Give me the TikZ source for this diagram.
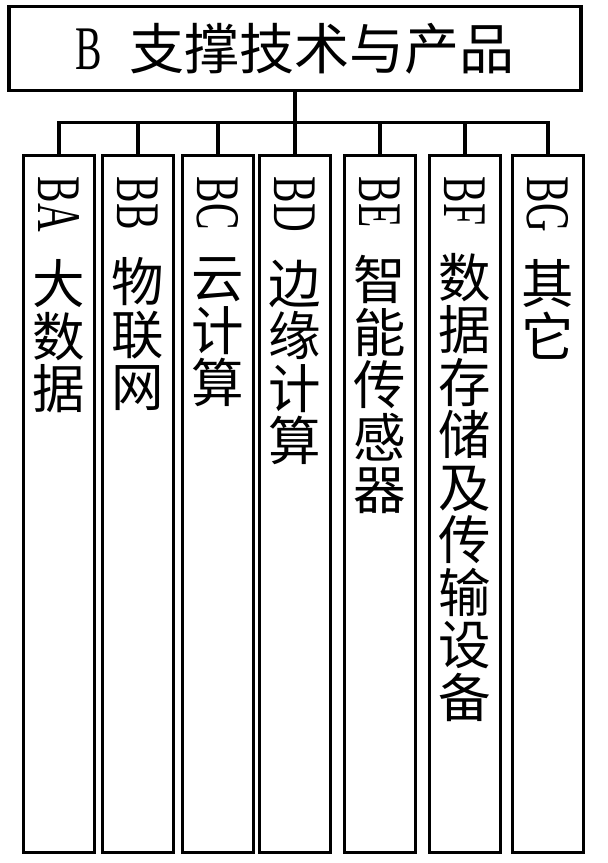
\documentclass[tikz,border=0pt]{standalone}
\usepackage{fontspec}
\usepackage{graphicx}
\usepackage{tikz}
\usetikzlibrary{positioning}

\newfontfamily\cjkfont{Noto Sans CJK SC}
\newfontfamily\latfont{Liberation Serif}
\newcommand{\code}[1]{{\latfont\fontsize{31pt}{31pt}\selectfont\scalebox{0.64}[1]{#1}}}
\newcommand{\vcode}[1]{\rotatebox{-90}{\code{#1}}}

\begin{document}
\begin{tikzpicture}
  [
    node distance = 40pt,
    box/.style = {draw, rectangle, line width = 1.6pt, inner sep = 0pt},
    root/.style = {box, minimum width = 286pt, minimum height = 42pt,
                   font = \cjkfont\fontsize{27.5pt}{27.5pt}\selectfont},
    leaf/.style = {box, minimum width = 35.5pt, minimum height = 348.5pt,
                   text width = 35.5pt, align = center,
                   text height = 0pt, text depth = 327pt,
                   font = \cjkfont\fontsize{26.25pt}{26.25pt}\selectfont},
    link/.style = {line width = 1.6pt},
  ]
  \useasboundingbox (0,0) rectangle (303.5pt,-431.5pt);

  \node[root] at (147.5pt,-24.25pt) (b) {\code{B}\hspace{14pt}支撑技术与产品};
  \coordinate [below of = b, yshift = 3pt] (bar);

  \node[leaf] [below of = b, yshift = -187.6pt] (bd) {\vcode{BD}\\[13pt]边\\缘\\计\\算};
  \node[leaf] [left of = bd, xshift = 1.5pt] (bc) {\vcode{BC}\\[13pt]云\\计\\算};
  \node[leaf] [left of = bc] (bb) {\vcode{BB}\\[13pt]物\\联\\网};
  \node[leaf] [left of = bb, xshift = 0.5pt] (ba) {\vcode{BA}\\[13pt]大\\数\\据};
  \node[leaf] [right of = bd, xshift = 2.5pt] (be) {\vcode{BE}\\[13pt]智\\能\\传\\感\\器};
  \node[leaf] [right of = be, xshift = 2.5pt] (bf) {\vcode{BF}\\[13pt]数\\据\\存\\储\\及\\传\\输\\设\\备};
  \node[leaf] [right of = bf, xshift = 1.5pt] (bg) {\vcode{BG}\\[13pt]其\\它};

  \draw[link] (b) -- (bar) -| (ba);
  \draw[link] (b) -- (bar) -| (bb);
  \draw[link] (b) -- (bar) -| (bc);
  \draw[link] (b) -- (bar) -| (bd);
  \draw[link] (b) -- (bar) -| (be);
  \draw[link] (b) -- (bar) -| (bf);
  \draw[link] (b) -- (bar) -| (bg);
\end{tikzpicture}
\end{document}
